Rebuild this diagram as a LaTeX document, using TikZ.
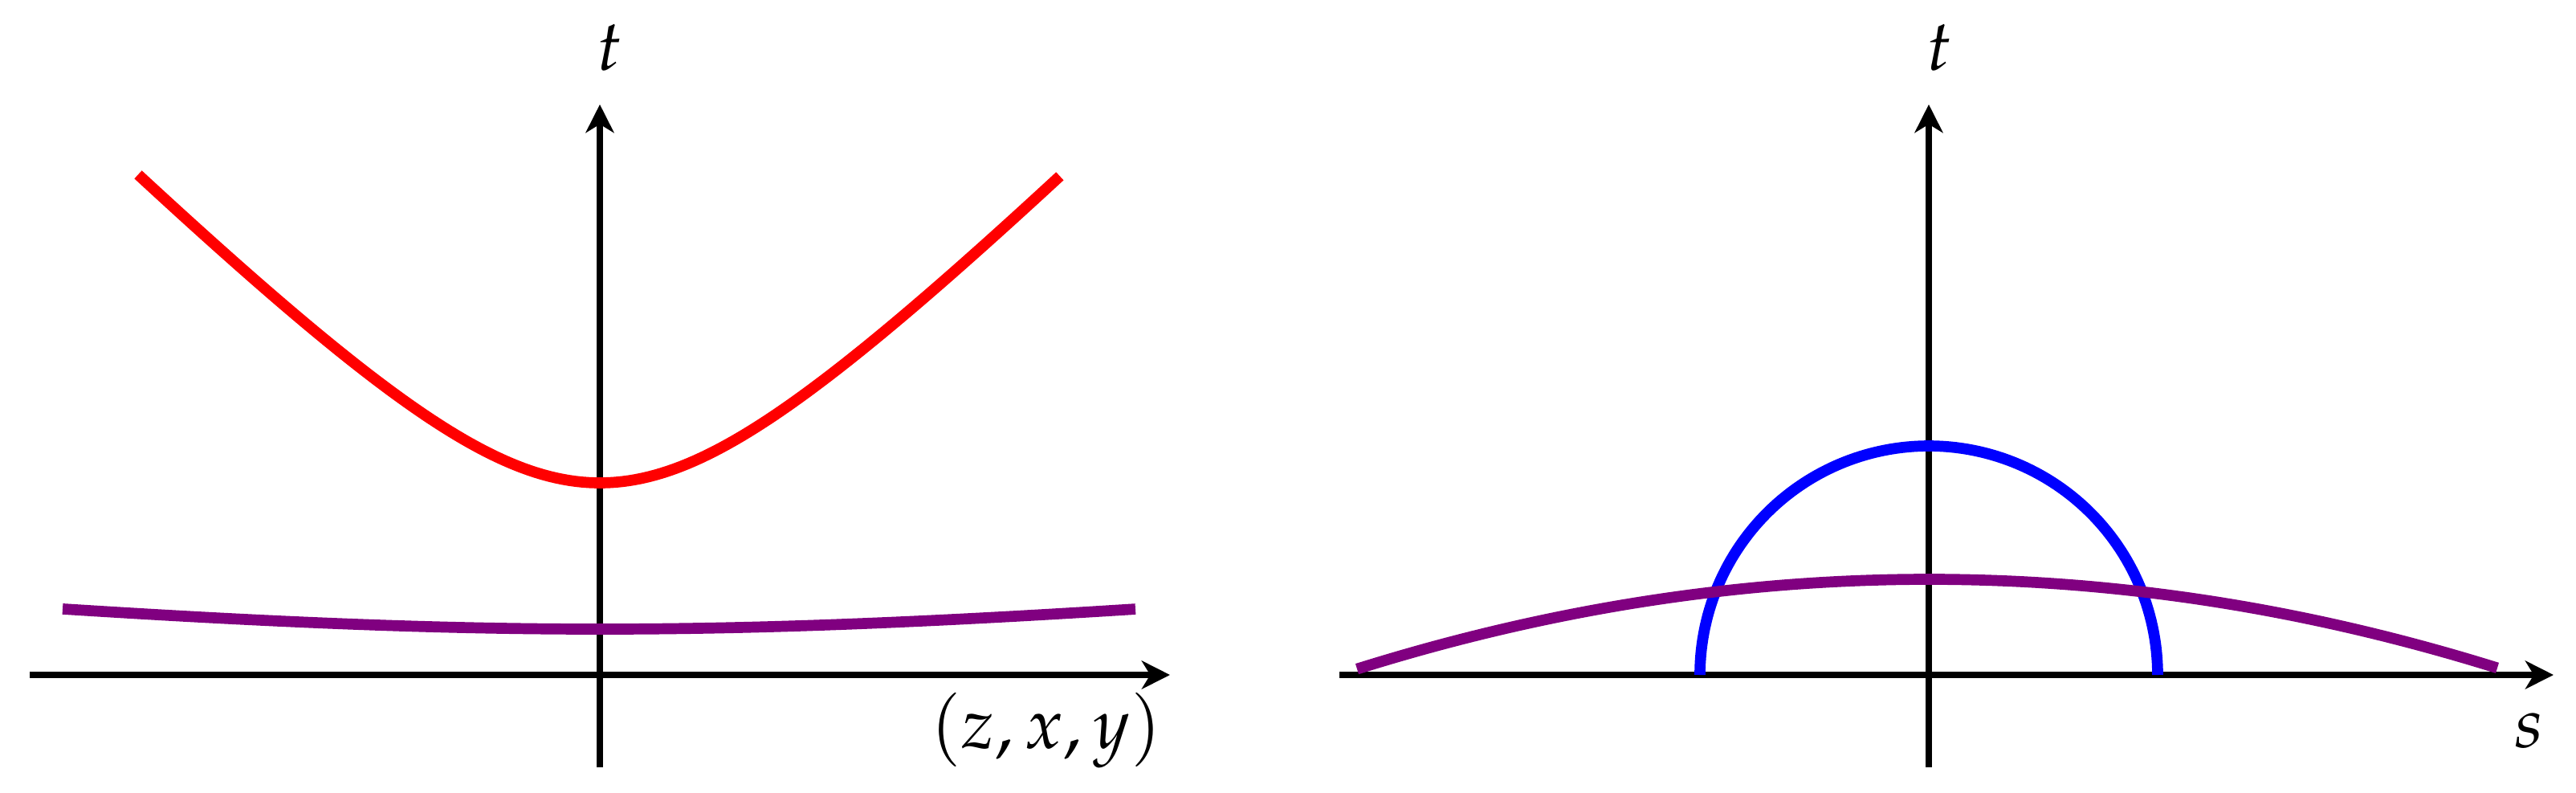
\documentclass[tikz,border=0pt]{standalone}
\usepackage{mathpazo}
\usetikzlibrary{arrows.meta}
\definecolor{wpurple}{RGB}{128,0,128}
\definecolor{wred}{RGB}{255,0,0}
\definecolor{wblue}{RGB}{0,0,255}
\tikzset{
  axisline/.style={line width=1.15pt, -{Stealth[length=5pt,width=5pt,inset=1.5pt]}},
  curve/.style={line width=1.95pt},
  lbl/.style={anchor=base, inner sep=0pt, font=\fontsize{12.6}{15}\selectfont},
}
\begin{document}
\begin{tikzpicture}[x=0.5cm, y=-0.5cm]
\useasboundingbox (0,0) rectangle (32.08,9.86);
% ---------- left panel ----------
\coordinate (LxA) at (0.37,8.40);
\coordinate (LxB) at (14.57,8.40);
\coordinate (LtA) at (7.47,9.55);
\coordinate (LtB) at (7.47,1.30);
\draw[axisline] (LxA) -- (LxB);
\draw[axisline] (LtA) -- (LtB);
\node[lbl] (Lt) at (7.59,0.87) {$t$};
\node[lbl] (Lzxy) at (13.03,9.31) {$(z,x,y)$};
\draw[curve, wred] plot[domain=-5.75:5.73, samples=140] ({7.47+\x},{8.40-sqrt(5.7121+\x*\x)});
\draw[curve, wpurple] plot[domain=-6.69:6.67, samples=80] ({7.47+\x},{8.40-sqrt(0.3249+0.0078*\x*\x)});
% ---------- right panel ----------
\coordinate (RxA) at (16.68,8.40);
\coordinate (RxB) at (31.80,8.40);
\coordinate (RtA) at (24.02,9.55);
\coordinate (RtB) at (24.02,1.30);
\draw[axisline] (RxA) -- (RxB);
\draw[axisline] (RtA) -- (RtB);
\node[lbl] (Rt) at (24.15,0.87) {$t$};
\node[lbl] (Rs) at (31.50,9.30) {$s$};
\draw[curve, wblue] plot[domain=0:180, samples=120] ({24.02+2.85*cos(\x)},{8.40-2.85*sin(\x)});
\draw[curve, wpurple] plot[domain=-7.12:7.08, samples=100] ({24.02+\x},{8.40-(1.19-0.02202*\x*\x)});
\end{tikzpicture}
\end{document}
